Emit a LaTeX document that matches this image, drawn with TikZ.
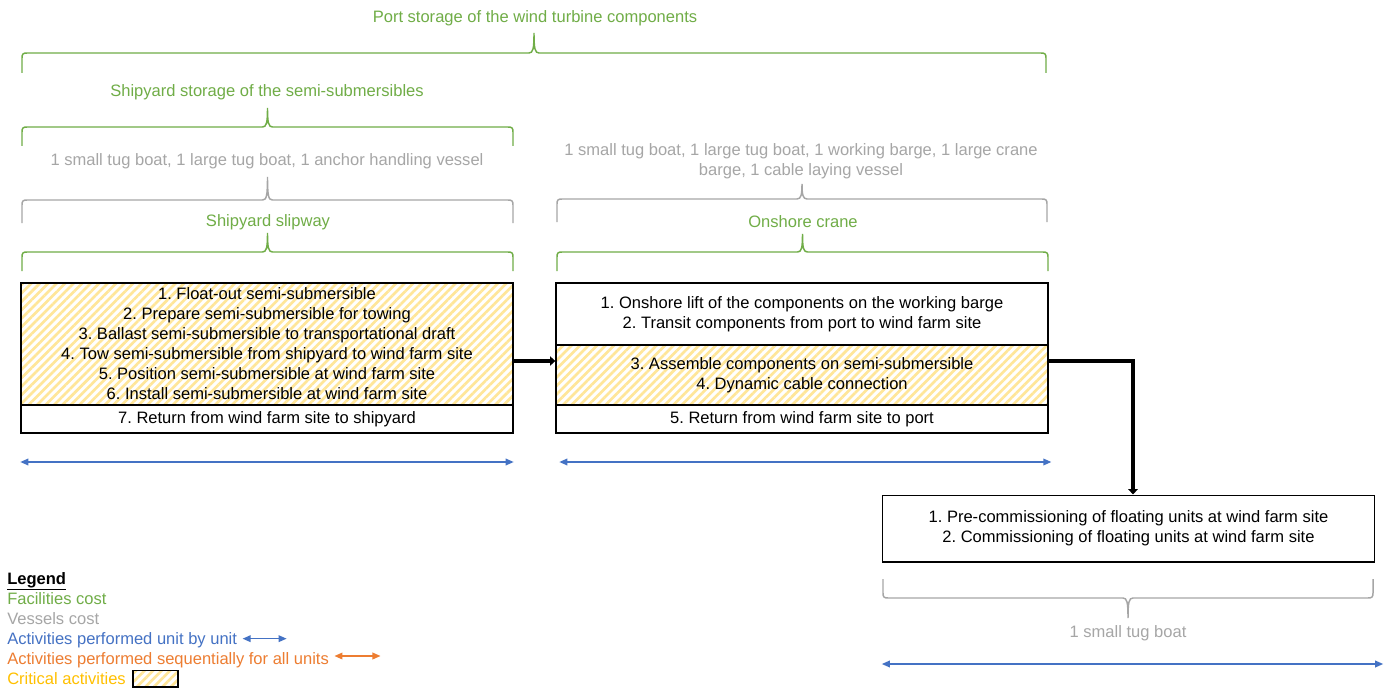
\documentclass[tikz,border=0pt]{standalone}
\usepackage{fontspec}
\setmainfont{Liberation Sans}
\usetikzlibrary{arrows.meta,patterns.meta,calc}
\frenchspacing

\definecolor{facgreen}{HTML}{70AD47}
\definecolor{vesgray}{HTML}{A6A6A6}
\definecolor{unitblue}{HTML}{4472C4}
\definecolor{seqorange}{HTML}{ED7D31}
\definecolor{critgold}{HTML}{FFC000}
\definecolor{hatchgold}{HTML}{FFE699}

% Curly brace: #1 left x, #2 right x, #3 y of the two ends,
% #4 y of the bar, #5 y of the centre tip, #6 draw style
\newcommand{\curlybrace}[6]{%
  \pgfmathsetmacro\brMid{(#1+#2)/2}%
  \pgfmathsetmacro\brSgn{sign(#3-#4)}%
  \draw[#6] (#1,#3) -- (#1,{#4+5*\brSgn})
     .. controls (#1,{#4+1*\brSgn}) and ({#1+1},#4) .. ({#1+5},#4)
     -- ({\brMid-5},#4)
     .. controls ({\brMid-1},#4) and (\brMid,{#4-4*\brSgn}) .. (\brMid,#5)
     .. controls (\brMid,{#4-4*\brSgn}) and ({\brMid+1},#4) .. ({\brMid+5},#4)
     -- ({#2-5},#4)
     .. controls ({#2-1},#4) and (#2,{#4+1*\brSgn}) .. (#2,{#4+5*\brSgn})
     -- (#2,#3);
}

\tikzset{
  txt/.style={font=\fontsize{12.4}{15}\selectfont, align=center, inner sep=0pt},
  facility/.style={txt, text=facgreen},
  vessel/.style={txt, text=vesgray},
  stage/.style={draw=black, line width=1pt, txt, minimum width=369pt},
  critical/.style={pattern={Lines[angle=45,distance=4.5pt,line width=2pt]},
                   pattern color=hatchgold},
  flow/.style={line width=2.4pt, -{Triangle[length=4pt,width=7pt]}},
  span/.style={unitblue, line width=1pt,
               {Triangle[length=6pt,width=5pt]}-{Triangle[length=6pt,width=5pt]}},
  fbrace/.style={facgreen, line width=1.1pt},
  vbrace/.style={vesgray, line width=1.1pt},
  legendline/.style={txt, anchor=base west},
}

\begin{document}
\begin{tikzpicture}[x=0.75pt, y=-0.75pt]
\fill[white] (0,0) rectangle (1392,688);
\useasboundingbox (0,0) rectangle (1392,688);

% ---- facilities and vessels above the stages ----
\node[facility] (port) at (535,18) {Port storage of the wind turbine components};
\curlybrace{22}{1046}{73}{53}{33}{fbrace}

\node[facility] (yardstore) at (267,92) {Shipyard storage of the semi-submersibles};
\curlybrace{22}{513}{146}{127}{108}{fbrace}

\node[vessel] (vessA) at (267,161) {1 small tug boat, 1 large tug boat, 1 anchor handling vessel};
\curlybrace{22}{513}{223}{200}{177}{vbrace}

\node[facility] (slipway) at (268,222) {Shipyard slipway};
\curlybrace{22}{513}{271}{252}{233}{fbrace}

\node[vessel] (vessB) at (801,161) {1 small tug boat, 1 large tug boat, 1 working barge, 1 large crane\\barge, 1 cable laying vessel};
\curlybrace{557}{1047}{222}{199}{184}{vbrace}

\node[facility] (crane) at (803,222) {Onshore crane};
\curlybrace{557}{1048}{271}{252}{234}{fbrace}

% ---- stage 1: semi-submersible ----
\node[stage, critical, minimum height=91.5pt] (slip) at (267,344)
  {1. Float-out semi-submersible\\
   2. Prepare semi-submersible for towing\\
   3. Ballast semi-submersible to transportational draft\\
   4. Tow semi-submersible from shipyard to wind farm site\\
   5. Position semi-submersible at wind farm site\\
   6. Install semi-submersible at wind farm site};
\node[stage, minimum height=21pt] (slipret) at (267,419)
  {7. Return from wind farm site to shipyard};

% ---- stage 2: components ----
\node[stage, minimum height=46.5pt] (lift) at (802,314)
  {1. Onshore lift of the components on the working barge\\
   2. Transit components from port to wind farm site};
\node[stage, critical, minimum height=45pt] (assemble) at (802,375)
  {3. Assemble components on semi-submersible\\
   4. Dynamic cable connection};
\node[stage, minimum height=21pt] (portret) at (802,419)
  {5. Return from wind farm site to port};

% ---- stage 3: commissioning ----
\node[stage, minimum height=50pt] (comm) at (1128.5,528.5)
  {1. Pre-commissioning of floating units at wind farm site\\
   2. Commissioning of floating units at wind farm site};
\curlybrace{883}{1373}{579}{598}{618}{vbrace}
\node[vessel] (vessC) at (1128,633) {1 small tug boat};

% ---- sequence connectors ----
\coordinate (flowrow) at (0,361);
\coordinate (droprow) at (1133,0);
\draw[flow] (slip.east |- flowrow) -- (assemble.west |- flowrow);
\draw[flow, line width=3pt] (assemble.east |- flowrow) -| (comm.north -| droprow);

% ---- unit-by-unit spans ----
\coordinate (spanrow) at (0,462);
\draw[span] (slipret.west |- spanrow) -- (slipret.east |- spanrow);
\draw[span] ([xshift=3pt]portret.west |- spanrow) -- ([xshift=2pt]portret.east |- spanrow);
\coordinate (spanrowC) at (0,664);
\draw[span] (comm.west |- spanrowC) -- ([xshift=6pt]comm.east |- spanrowC);

% ---- legend ----
\node[legendline] (lgtitle) at (7,584) {\textbf{\underline{Legend}}};
\node[legendline, text=facgreen] (lgfac) at (7,604) {Facilities cost};
\node[legendline, text=vesgray] (lgves) at (7,624) {Vessels cost};
\node[legendline, text=unitblue] (lgunit) at (7,644) {Activities performed unit by unit};
\node[legendline, text=seqorange] (lgseq) at (7,664) {Activities performed sequentially for all units};
\node[legendline, text=critgold] (lgcrit) at (7,684) {Critical activities};
\draw[span] ([xshift=4pt,yshift=4pt]lgunit.base east) -- ++(44,0);
\draw[span, seqorange] ([xshift=4pt,yshift=6pt]lgseq.base east) -- ++(46,0);
\node[draw=black, line width=1pt, critical, minimum width=33.75pt, minimum height=12.5pt,
      inner sep=0pt] (lgbox) at (155.5,678.5) {};
\end{tikzpicture}
\end{document}
